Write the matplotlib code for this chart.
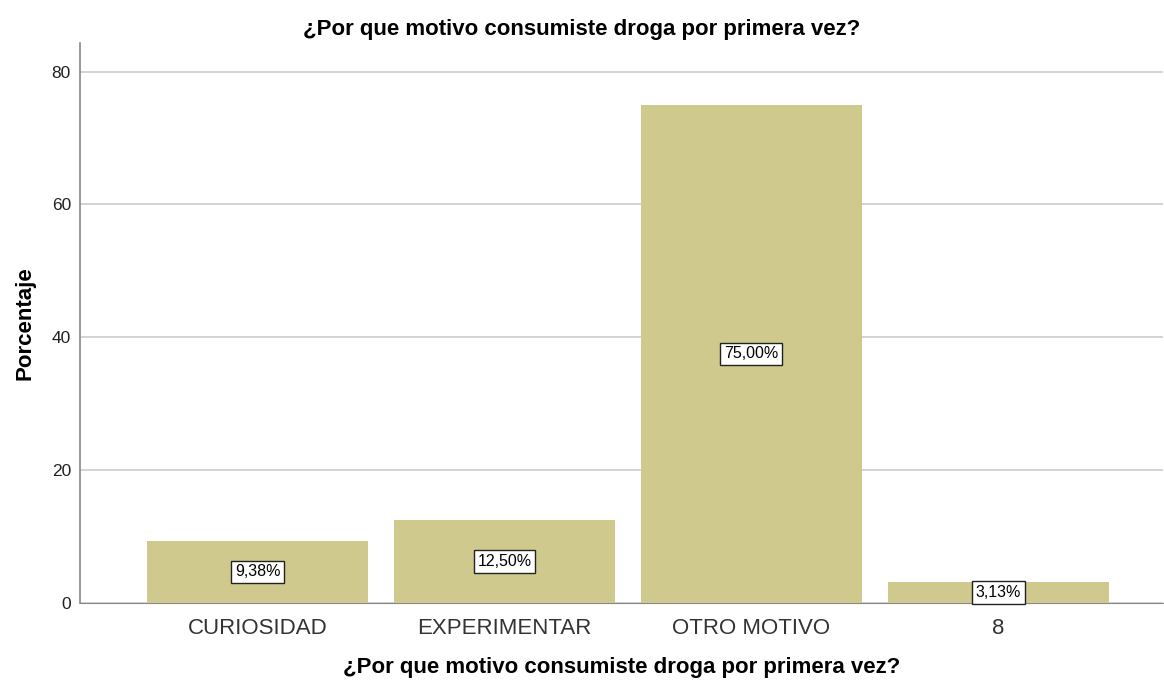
import matplotlib
matplotlib.use("Agg")
import matplotlib.pyplot as plt

plt.rcParams['font.family'] = ['Liberation Sans', 'DejaVu Sans']

# ---------------- data ----------------
categories = ["CURIOSIDAD", "EXPERIMENTAR", "OTRO MOTIVO", "8"]
percentages = [9.38, 12.50, 75.00, 3.13]
y_ticks = [0, 20, 40, 60, 80]
title = "¿Por que motivo consumiste droga por primera vez?"

BAR_COLOR = "#D0C98E"

fig = plt.figure(figsize=(11.64, 6.84), dpi=100)
ax = fig.add_axes([0.0687, 0.1184, 0.9303, 0.8186])

x = list(range(len(categories)))
ax.bar(x, percentages, width=0.895, color=BAR_COLOR, zorder=3)

for xi, v in zip(x, percentages):
    lbl = f"{v:.2f}%".replace(".", ",")
    ax.text(xi, v / 2, lbl, ha="center", va="center", fontsize=11.5, zorder=4,
            bbox=dict(boxstyle="square,pad=0.24", fc="white", ec="#222222", lw=1.0))

ax.set_xlim(-0.719, 3.666)
ax.set_ylim(0, 84.3)
ax.set_xticks(x)
ax.set_xticklabels(categories, fontsize=16, color="#333333")
ax.set_yticks(y_ticks)
ax.set_yticklabels([str(t) for t in y_ticks], fontsize=12.5, color="#222222")
ax.tick_params(axis="x", length=0, pad=11)
ax.tick_params(axis="y", length=0, pad=6.5)

ax.grid(axis="y", color="#cccccc", lw=1.2, zorder=0)
for s in ["top", "right"]:
    ax.spines[s].set_visible(False)
ax.spines["left"].set_color("#888888")
ax.spines["bottom"].set_color("#888888")
ax.spines["left"].set_linewidth(1.2)

# title is centred on the figure, not on the axes
ax.set_title(title, fontsize=16, fontweight="bold", pad=6, x=0.4635)
ax.set_xlabel(title, fontsize=16, fontweight="bold", labelpad=12.5)
ax.set_ylabel("Porcentaje", fontsize=16, fontweight="bold", labelpad=12)

fig.savefig("out.png", dpi=100)
